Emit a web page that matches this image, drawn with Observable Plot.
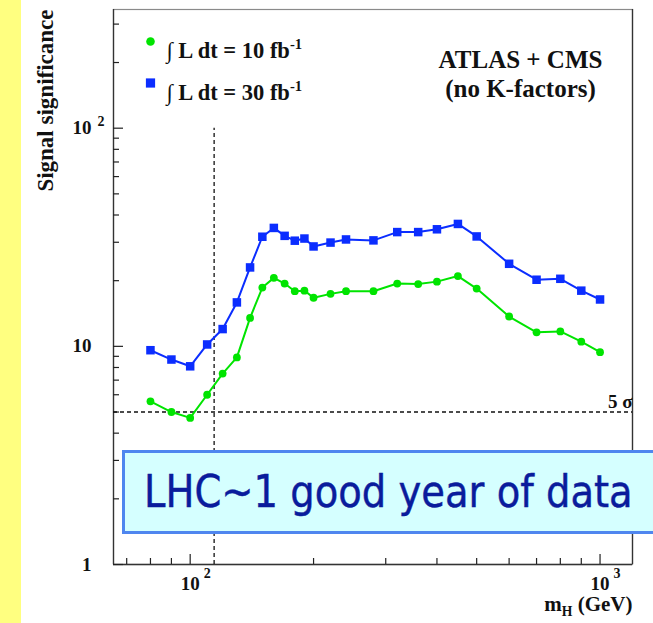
<!DOCTYPE html>
<html>
<head>
<meta charset="utf-8">
<script src="https://cdn.jsdelivr.net/npm/d3@7"></script>
<script src="https://cdn.jsdelivr.net/npm/@observablehq/plot@0.6"></script>
<style>
  body { margin: 0; background: #fff; }
  #page { position: relative; width: 653px; height: 623px; overflow: hidden; }
  #chart svg { display: block; background: transparent; }
  #strip { position: absolute; left: 0; top: 0; width: 21px; height: 623px; background: #ffff80; }
  #note {
    position: absolute; left: 122px; top: 450px; width: 560px; height: 78px;
    border: 3px solid #4f86ef; background: #d5ffff; color: #0a1c9c;
    font-family: "Comic Sans MS", "DejaVu Sans", sans-serif; font-size: 38.5px;
    line-height: 84px; padding-left: 19px; white-space: nowrap;
  }
  #note span { display: inline-block; transform: scaleY(1.16); transform-origin: 0 70%; -webkit-text-stroke: 0.4px #0a1c9c; }
</style>
</head>
<body>
<div id="page">
  <div id="chart"></div>
  <div id="strip"></div>
  <div id="note"><span>LHC~1 good year of data</span></div>
</div>
<script>
// Higgs mass points (GeV)
const mass = [80, 90, 100, 110, 120, 130, 140, 150, 160, 170, 180, 190, 200,
              220, 240, 280, 320, 360, 400, 450, 500, 600, 700, 800, 900, 1000];
// Signal significance for 10 fb^-1
const sig10 = [5.6, 5.0, 4.7, 6.0, 7.5, 8.9, 13.5, 18.6, 20.6, 19.4, 17.9, 18.0, 16.7,
               17.4, 17.9, 17.9, 19.4, 19.3, 19.8, 21.0, 18.4, 13.7, 11.6, 11.7, 10.5, 9.4];
// Signal significance for 30 fb^-1
const sig30 = [9.6, 8.7, 8.1, 10.2, 12.0, 15.9, 23.0, 31.8, 34.9, 32.1, 30.5, 31.2, 28.7,
               29.9, 30.9, 30.6, 33.4, 33.4, 34.4, 36.4, 31.9, 23.9, 20.2, 20.4, 18.0, 16.4];

const seriesNames = ["∫ L dt = 10 fb^{-1}", "∫ L dt = 30 fb^{-1}"];
const seriesColors = ["#00e400", "#0b2dff"];
const seriesSymbols = ["circle", "square"];
const seriesRadius = [3.9, 4.8];

const xDomain = [65, 1200];
const yDomain = [1, 350];

const yTickValues = [1, 10, 100];
const yTickBase = ["1", "10", "10"];
const yTickExp = ["", "", "2"];
const yMinorTicks = [2, 3, 4, 5, 6, 7, 8, 9, 20, 30, 40, 50, 60, 70, 80, 90, 200, 300];

const xTickValues = [100, 1000];
const xTickBase = ["10", "10"];
const xTickExp = ["2", "3"];
const xMinorTicks = [70, 80, 90, 200, 300, 400, 500, 600, 700, 800, 900];

const lepLimit = 114.4;     // LEP exclusion (GeV)
const discovery = 5;        // 5 sigma line
const sigmaLabel = "5 σ";
const xTitle = "m_{H} (GeV)";
const yTitle = "Signal significance";
const experimentLabel = "ATLAS + CMS\n(no K-factors)";

const rows = mass.flatMap((m, i) => [
  {mass: m, sig: sig10[i], series: 0},
  {mass: m, sig: sig30[i], series: 1}
]);

// Layout
const W = 653, H = 623;
const M = {left: 113, right: 21, top: 9, bottom: 59};
const frameW = W - M.left - M.right;
const frameH = H - M.top - M.bottom;

const serif = "Liberation Serif, Times New Roman, serif";
const T = {fontFamily: serif, fontWeight: "bold", fill: "#111"};
const tickStroke = {stroke: "#222", strokeWidth: 1.2};

// inward ticks: short segments hugging the left and bottom frame edges
const yTicks = (values, len) => Plot.tickY(values, {y: d => d, insetRight: frameW - len, ...tickStroke});
const xTicks = (values, len) => Plot.tickX(values, {x: d => d, insetTop: frameH - len, ...tickStroke});

const seriesMarks = [0, 1].flatMap(s => [
  Plot.line(rows.filter(d => d.series === s), {x: "mass", y: "sig", stroke: seriesColors[s], strokeWidth: 2}),
  Plot.dot(rows.filter(d => d.series === s), {x: "mass", y: "sig", symbol: seriesSymbols[s], r: seriesRadius[s], fill: seriesColors[s]})
]);

const legendMarks = [0, 1].flatMap(s => [
  Plot.dot([seriesNames[s]], {x: null, y: null, frameAnchor: "top-left", dx: 37, dy: 32 + 41.5 * s,
    symbol: seriesSymbols[s], r: seriesRadius[s] + 0.4, fill: seriesColors[s]}),
  Plot.text([seriesNames[s]], {x: null, y: null, text: d => d, frameAnchor: "top-left", dx: 53, dy: 33 + 41.5 * s,
    textAnchor: "start", fontSize: 22.5, ...T})
]);

const chart = Plot.plot({
  width: W,
  height: H,
  marginLeft: M.left,
  marginRight: M.right,
  marginTop: M.top,
  marginBottom: M.bottom,
  x: {type: "log", domain: xDomain, label: null, axis: null},
  y: {type: "log", domain: yDomain, label: null, axis: null},
  style: {background: "transparent"},
  marks: [
    Plot.frame({stroke: "#8a8a8a", strokeWidth: 1.2}),
    Plot.ruleX([xDomain[0], xDomain[1]], {stroke: "#333", strokeWidth: 1.3}),
    Plot.ruleY([yDomain[0]], {stroke: "#333", strokeWidth: 1.3}),
    yTicks(yTickValues, 10),
    yTicks(yMinorTicks, 6),
    xTicks(xTickValues, 10),
    xTicks(xMinorTicks, 6),
    // tick labels
    Plot.text(yTickValues, {y: d => d, text: (d, i) => yTickBase[i], frameAnchor: "left",
      textAnchor: "end", dx: -22, fontSize: 19, ...T}),
    Plot.text(yTickValues, {y: d => d, text: (d, i) => yTickExp[i], frameAnchor: "left",
      textAnchor: "start", dx: -16, dy: -7, fontSize: 14, ...T}),
    Plot.text(xTickValues, {x: d => d, text: (d, i) => xTickBase[i], frameAnchor: "bottom",
      textAnchor: "middle", dy: 25, fontSize: 19, ...T}),
    Plot.text(xTickValues, {x: d => d, text: (d, i) => xTickExp[i], frameAnchor: "bottom",
      textAnchor: "start", dx: 13.5, dy: 13, fontSize: 14, ...T}),
    // axis titles
    Plot.text([yTitle], {x: null, y: null, text: d => d, frameAnchor: "top-left", rotate: -90,
      textAnchor: "end", dx: -77, dy: 0, fontSize: 23, ...T}),
    Plot.text([xTitle], {x: null, y: null, text: d => d, frameAnchor: "bottom-right",
      textAnchor: "end", dx: 0, dy: 46, fontSize: 21, ...T}),
    // reference lines
    Plot.ruleY([discovery], {stroke: "#111", strokeWidth: 1.3, strokeDasharray: "4,3"}),
    Plot.ruleX([lepLimit], {y1: yDomain[0], y2: 100, stroke: "#111", strokeWidth: 1.3, strokeDasharray: "4,3"}),
    Plot.text([discovery], {y: d => d, text: () => sigmaLabel, frameAnchor: "right",
      textAnchor: "end", dy: -10, fontSize: 19, ...T}),
    // data
    ...seriesMarks,
    // legend and experiment label
    ...legendMarks,
    Plot.text([experimentLabel], {x: null, y: null, text: d => d, frameAnchor: "top-right",
      dx: -112, dy: 37.7, lineAnchor: "top", textAnchor: "middle", lineHeight: 1.167, fontSize: 25, ...T})
  ]
});

document.getElementById("chart").appendChild(chart);

// Render ^{...} and _{...} as raised / lowered tspans
d3.select(chart).selectAll("text").each(function () {
  const s = this.textContent;
  if (!/[\^_]\{/.test(s)) return;
  const size = parseFloat(getComputedStyle(this).fontSize) || 16;
  const el = d3.select(this);
  el.text(null);
  const re = /([\^_])\{([^}]*)\}|([^\^_]+)/g;
  let m;
  while ((m = re.exec(s))) {
    if (m[3] !== undefined) {
      el.append("tspan").text(m[3]);
    } else if (m[1] === "^") {
      el.append("tspan").attr("font-size", size * 0.65).attr("baseline-shift", size * 0.38).text(m[2]);
    } else {
      el.append("tspan").attr("font-size", size * 0.65).attr("baseline-shift", -size * 0.22).text(m[2]);
    }
  }
});
</script>
</body>
</html>
